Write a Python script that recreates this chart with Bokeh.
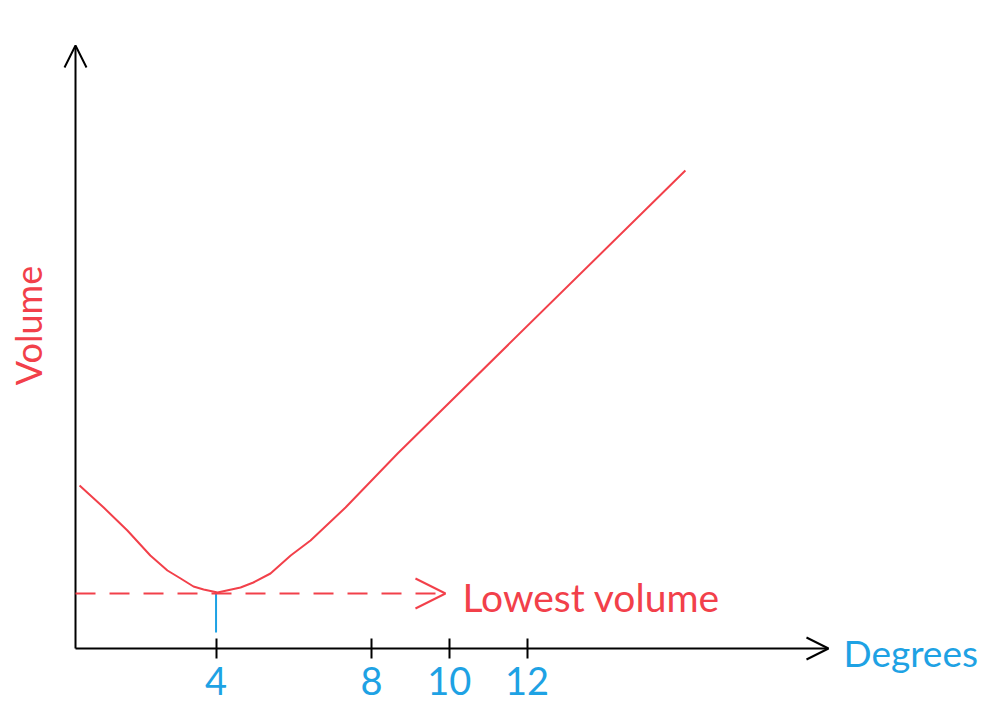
from bokeh.plotting import figure
from bokeh.models import Arrow, OpenHead, Label, FixedTicker, Range1d
from bokeh.embed import file_html
from bokeh.resources import INLINE

# ---- data ----
degrees = [0.49, 1.11, 1.72, 2.31, 2.75, 3.09, 3.42, 3.68, 4.04, 4.63, 4.96, 5.40, 5.92, 6.43, 7.33, 8.67, 16.07]
volume = [16.3, 14.1, 11.8, 9.3, 7.8, 7.0, 6.2, 5.9, 5.6, 6.1, 6.6, 7.5, 9.3, 10.8, 14.1, 19.5, 47.8]
tick_degrees = [4, 8, 10, 12]
tick_labels = ["4", "8", "10", "12"]
lowest_degree = 4
lowest_volume = 5.5
x_label = "Degrees"
y_label = "Volume"
note_label = "Lowest volume"

RED = "#f2404a"
BLUE = "#1ea2e4"
FONT = "Lato"

x_axis_start = 0.386   # where the vertical axis stands
x_axis_end = 19.75     # tip of horizontal axis arrow
y_axis_end = 60.3      # tip of vertical axis arrow

p = figure(width=984, height=709, output_backend="svg", toolbar_location=None,
           x_range=Range1d(-1.543, 23.762), y_range=Range1d(-6.1, 64.8),
           y_axis_location=None,
           min_border_left=0, min_border_right=0, min_border_top=0, min_border_bottom=0)
p.outline_line_color = None
p.grid.visible = False
p.background_fill_color = "white"
p.border_fill_color = "white"

# x axis (ticks and labels) placed on the data baseline
xa = p.xaxis[0]
xa.fixed_location = 0
xa.ticker = FixedTicker(ticks=tick_degrees)
xa.major_label_overrides = {t: l for t, l in zip(tick_degrees, tick_labels)}
xa.axis_line_color = None
xa.major_tick_in = 10
xa.major_tick_out = 10
xa.major_tick_line_color = "black"
xa.major_tick_line_width = 2
xa.minor_tick_line_color = None
xa.major_label_text_color = BLUE
xa.major_label_text_font = FONT
xa.major_label_text_font_size = "38px"
xa.major_label_standoff = 8

# axis arrows
p.add_layout(Arrow(x_start=x_axis_start, y_start=0, x_end=x_axis_end, y_end=0,
                   line_color="black", line_width=2,
                   end=OpenHead(size=22, line_color="black", line_width=2)))
p.add_layout(Arrow(x_start=x_axis_start, y_start=0, x_end=x_axis_start, y_end=y_axis_end,
                   line_color="black", line_width=2,
                   end=OpenHead(size=22, line_color="black", line_width=2)))

# curve
p.line(degrees, volume, line_color=RED, line_width=2)

# lowest-volume dashed arrow
p.add_layout(Arrow(x_start=x_axis_start, y_start=lowest_volume, x_end=9.9, y_end=lowest_volume,
                   line_color=RED, line_width=2, line_dash="20 14",
                   end=OpenHead(size=30, line_color=RED, line_width=2)))

# blue marker at minimum
p.segment(x0=[lowest_degree], y0=[lowest_volume], x1=[lowest_degree], y1=[1.6],
          line_color=BLUE, line_width=2)

p.add_layout(Label(x=10.337, y=5.2, text=note_label, text_color=RED,
                   text_font=FONT, text_font_size="39px", text_baseline="middle"))
p.add_layout(Label(x=20.136, y=-0.4, text=x_label, text_color=BLUE,
                   text_font=FONT, text_font_size="37px", text_baseline="middle"))
p.add_layout(Label(x=-0.823, y=32.3, text=y_label, text_color=RED, angle=90, angle_units="deg",
                   text_font=FONT, text_font_size="36px", text_baseline="middle", text_align="center"))

open("out.html", "w").write(file_html(p, INLINE))
